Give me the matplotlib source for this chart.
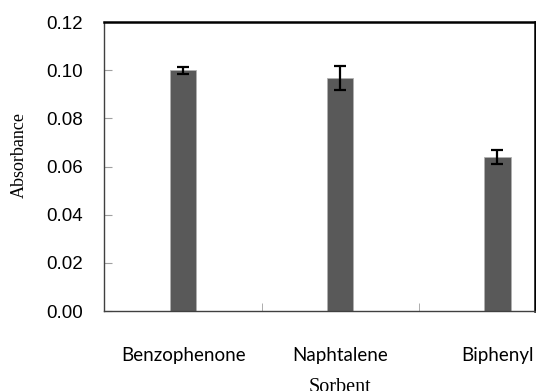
import numpy as np
import matplotlib
matplotlib.use("Agg")
import matplotlib.pyplot as plt

# data
sorbents = ["Benzophenone", "Naphtalene", "Biphenyl"]
absorbance = [0.100, 0.0967, 0.0640]
errors = [0.0015, 0.0051, 0.0028]
yticks = [0.00, 0.02, 0.04, 0.06, 0.08, 0.10, 0.12]

fig = plt.figure(figsize=(5.36, 3.91), dpi=100)
ax = fig.add_axes([104/536, 1-311/391, (535-104)/536, (311-22)/391])

x = np.arange(len(sorbents))
ax.bar(x, absorbance, width=0.166, color='#595959', edgecolor='#b0b0b0', linewidth=0.6, zorder=2)
ax.errorbar(x, absorbance, yerr=errors, fmt='none', ecolor='black', elinewidth=1.6,
            capsize=4, capthick=1.6, zorder=3)

ax.set_xlim(-0.506, 2.239)
ax.set_ylim(0, 0.12)
ax.set_yticks(yticks)
ax.set_yticklabels(['%.2f' % v for v in yticks], fontfamily='Liberation Sans', fontsize=13.5)
ax.tick_params(axis='y', direction='in', length=6, color='#a0a0a0', pad=15)

ax.set_xticks(x)
ax.set_xticklabels(sorbents, fontfamily='Lato', fontsize=13.5)
ax.set_xticks([0.5, 1.5], minor=True)
ax.tick_params(axis='x', which='major', length=0, pad=26)
ax.tick_params(axis='x', which='minor', direction='in', length=6, color='#a0a0a0')

for s in ['top', 'right']:
    ax.spines[s].set_color('black')
    ax.spines[s].set_linewidth(1.8)
for s in ['left', 'bottom']:
    ax.spines[s].set_color('#404040')
    ax.spines[s].set_linewidth(1.0)

fig.text(19/536, 1-155/391, 'Absorbance', rotation=90, ha='center', va='center',
         fontfamily='Liberation Serif', fontsize=13)
fig.text(340/536, 1-378/391, 'Sorbent', ha='center', va='top',
         fontfamily='Liberation Serif', fontsize=14.5)

fig.savefig('out.png', dpi=100)
